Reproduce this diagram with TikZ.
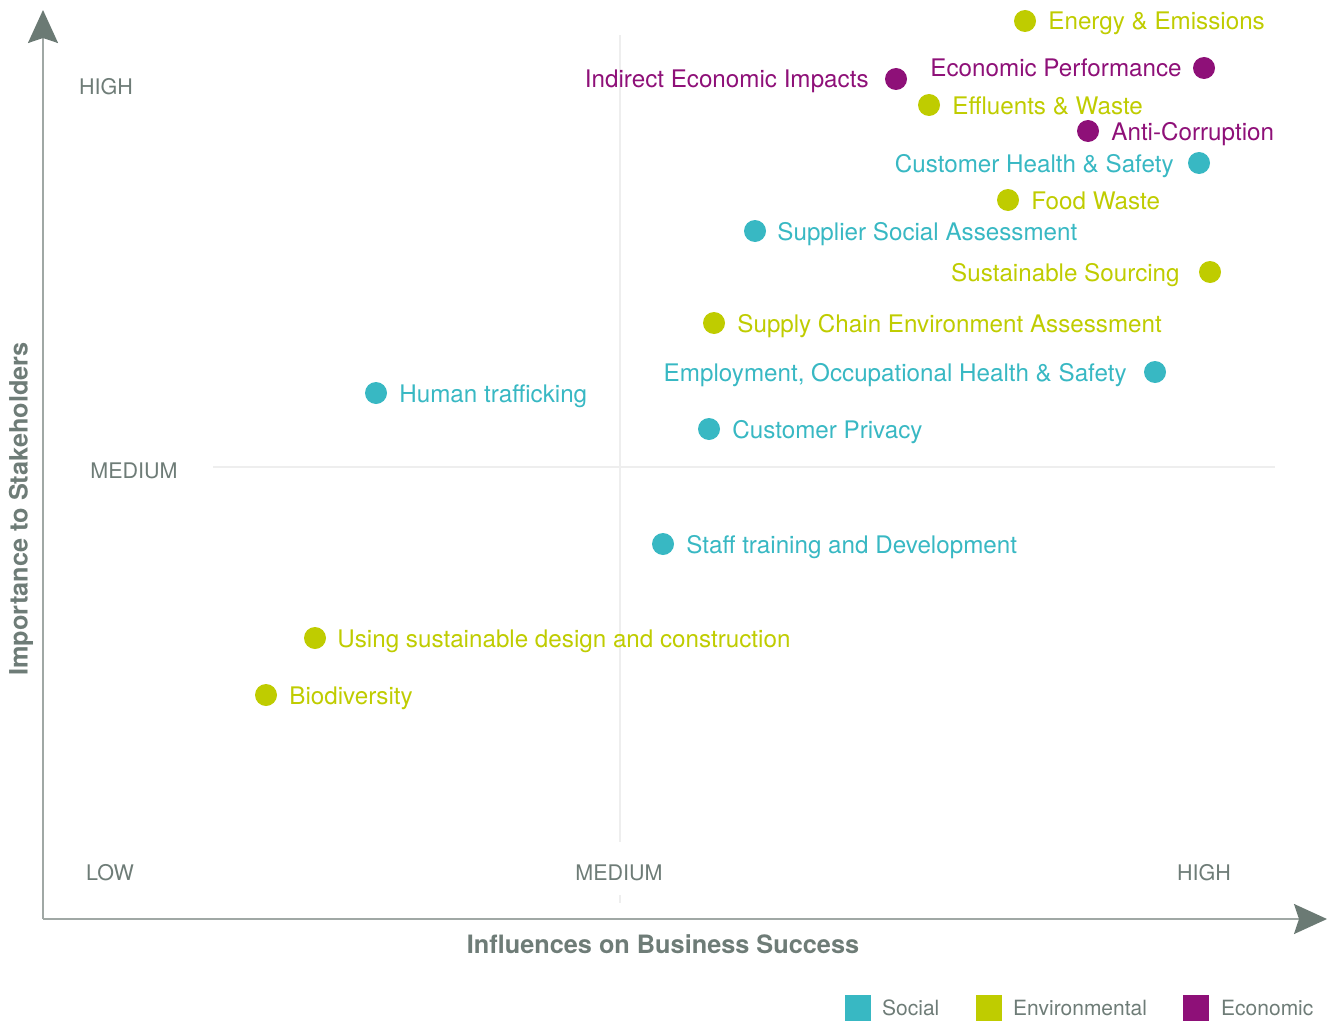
\documentclass[tikz,border=0pt]{standalone}
\usepackage{fontspec}
\setmainfont{TeX Gyre Heros}
\usetikzlibrary{arrows.meta}
\definecolor{social}{HTML}{38B8C3}
\definecolor{environ}{HTML}{BFCC00}
\definecolor{econ}{HTML}{8E1078}
\definecolor{axisline}{HTML}{A0A8A5}
\definecolor{axishead}{HTML}{6B7A74}
\definecolor{axistext}{HTML}{6E7C77}
\definecolor{gridc}{HTML}{EEEEEE}
\tikzset{
  dot/.style={circle,fill=#1,minimum size=22pt,inner sep=0pt},
  item/.style={text=#1,inner sep=0pt,font=\fontsize{24.2}{28}\selectfont},
  rlab/.style={item=#1,anchor=base west},
  llab/.style={item=#1,anchor=base east},
  ticklab/.style={text=axistext,font=\fontsize{21.5}{25}\selectfont,inner sep=0pt},
  axtitle/.style={text=axistext,font=\fontsize{25.3}{29}\selectfont\bfseries,inner sep=0pt},
  axis/.style={draw=axisline,line width=2pt,-{Stealth[length=33pt,width=30pt,inset=5pt,color=axishead]}},
  grid/.style={draw=gridc,line width=1.5pt},
  legbox/.style={fill=#1,minimum size=26pt,inner sep=0pt},
  legtext/.style={text=axistext,font=\fontsize{21}{25}\selectfont,inner sep=0pt,anchor=west}
}
\begin{document}
\begin{tikzpicture}[x=1pt,y=-1pt]
\useasboundingbox (0,0) rectangle (1335,1022);
% grid
\coordinate (gvt) at (620,35);
\coordinate (gvb) at (620,842);
\coordinate (gvt2) at (620,895);
\coordinate (gvb2) at (620,903);
\coordinate (ghl) at (213,467);
\coordinate (ghr) at (1275,467);
\draw[grid] (gvt) -- (gvb);
\draw[grid] (gvt2) -- (gvb2);
\draw[grid] (ghl) -- (ghr);
% axes
\coordinate (org) at (43,919);
\coordinate (ytip) at (43,10);
\coordinate (xtip) at (1327,919);
\draw[axis] (org) -- (ytip);
\draw[axis] (org) -- (xtip);
% tick labels
\node[ticklab,anchor=west] (yhigh) at (79,87) {HIGH};
\node[ticklab] (ymed) at (134,471) {MEDIUM};
\node[ticklab] (xlow) at (110,873) {LOW};
\node[ticklab] (xmed) at (619,873) {MEDIUM};
\node[ticklab] (xhigh) at (1204,873) {HIGH};
% axis titles
\node[axtitle] (xtitle) at (663,944) {Influences on Business Success};
\node[axtitle,rotate=90] (ytitle) at (21,509) {Importance to Stakeholders};
% items
\node[dot=environ] (d1) at (1025,21) {};
\node[rlab=environ] (t1) at ([xshift=12pt,yshift=-9pt]d1.east) {Energy \& Emissions};
\node[dot=econ] (d2) at (1204,68) {};
\node[llab=econ] (t2) at ([xshift=-11pt,yshift=-9pt]d2.west) {Economic Performance};
\node[dot=econ] (d3) at (896,79) {};
\node[llab=econ] (t3) at ([xshift=-16pt,yshift=-9pt]d3.west) {Indirect Economic Impacts};
\node[dot=environ] (d4) at (929,105) {};
\node[rlab=environ] (t4) at ([xshift=12pt,yshift=-9pt]d4.east) {Effluents \& Waste};
\node[dot=econ] (d5) at (1088,131) {};
\node[rlab=econ] (t5) at ([xshift=12pt,yshift=-9pt]d5.east) {Anti-Corruption};
\node[dot=social] (d6) at (1199,163) {};
\node[llab=social] (t6) at ([xshift=-14pt,yshift=-9pt]d6.west) {Customer Health \& Safety};
\node[dot=environ] (d7) at (1008,200) {};
\node[rlab=environ] (t7) at ([xshift=12pt,yshift=-9pt]d7.east) {Food Waste};
\node[dot=social] (d8) at (755,231) {};
\node[rlab=social] (t8) at ([xshift=11pt,yshift=-9pt]d8.east) {Supplier Social Assessment};
\node[dot=environ] (d9) at (1210,272) {};
\node[llab=environ] (t9) at ([xshift=-19pt,yshift=-9pt]d9.west) {Sustainable Sourcing};
\node[dot=environ] (d10) at (714,323) {};
\node[rlab=environ] (t10) at ([xshift=12pt,yshift=-9pt]d10.east) {Supply Chain Environment Assessment};
\node[dot=social] (d11) at (1155,372) {};
\node[llab=social] (t11) at ([xshift=-17pt,yshift=-9pt]d11.west) {Employment, Occupational Health \& Safety};
\node[dot=social] (d12) at (376,393) {};
\node[rlab=social] (t12) at ([xshift=12pt,yshift=-9pt]d12.east) {Human trafficking};
\node[dot=social] (d13) at (709,429) {};
\node[rlab=social] (t13) at ([xshift=12pt,yshift=-9pt]d13.east) {Customer Privacy};
\node[dot=social] (d14) at (663,544) {};
\node[rlab=social] (t14) at ([xshift=12pt,yshift=-9pt]d14.east) {Staff training and Development};
\node[dot=environ] (d15) at (315,638) {};
\node[rlab=environ] (t15) at ([xshift=11pt,yshift=-9pt]d15.east) {Using sustainable design and construction};
\node[dot=environ] (d16) at (266,695) {};
\node[rlab=environ] (t16) at ([xshift=12pt,yshift=-9pt]d16.east) {Biodiversity};
% legend
\node[legbox=social] (ls) at (858,1008) {};
\node[legtext] (lst) at (882,1008) {Social};
\node[legbox=environ] (le) at (989,1008) {};
\node[legtext] (let) at (1013,1008) {Environmental};
\node[legbox=econ] (lc) at (1196,1008) {};
\node[legtext] (lct) at (1221,1008) {Economic};
\end{tikzpicture}
\end{document}
